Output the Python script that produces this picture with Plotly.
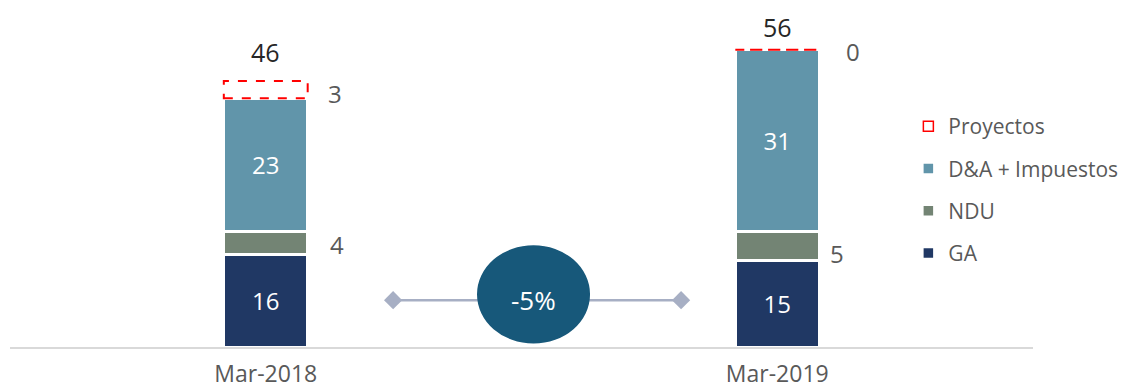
import plotly.graph_objects as go

categories = ["Mar-2018", "Mar-2019"]
ga = [16, 15]
ndu = [4, 5]
da_imp = [23, 31.4]
proyectos = [3, 0]
totals = [46, 56]
change_label = "-5%"

C_GA = "#203864"
C_NDU = "#738474"
C_DA = "#6195AA"
C_PROY = "#FF0000"
C_LABEL = "#595959"
FONT = "Open Sans"

xs = list(range(len(categories)))
BW = 0.164

fig = go.Figure()
common = dict(width=BW, hoverinfo="skip")
fig.add_bar(x=xs, y=ga, name="GA", legendgroup="ga", legendrank=4,
            marker=dict(color=C_GA, line=dict(color="white", width=2.5)),
            text=[f"{v:.0f}" for v in ga], textposition="inside",
            insidetextanchor="middle", textfont=dict(color="white", size=24, family=FONT),
            **common)
fig.add_bar(x=xs, y=ndu, name="NDU", legendgroup="ndu", legendrank=3,
            marker=dict(color=C_NDU, line=dict(color="white", width=2.5)), **common)
fig.add_bar(x=xs, y=da_imp, name="D&A + Impuestos", legendgroup="da", legendrank=2,
            marker=dict(color=C_DA, line=dict(color="white", width=2.5)),
            text=[f"{v:.0f}" for v in da_imp], textposition="inside",
            insidetextanchor="middle", textfont=dict(color="white", size=24, family=FONT),
            **common)
fig.add_bar(x=xs, y=proyectos, name="Proyectos", showlegend=False,
            marker=dict(color="rgba(0,0,0,0)", line=dict(width=0)), **common)
# legend entry for Proyectos
fig.add_scatter(x=[None], y=[None], mode="markers", name="Proyectos", legendgroup="proy",
                legendrank=1,
                marker=dict(symbol="square-open", color=C_PROY, size=10, line=dict(width=1.5)))

annotations = []
shapes = []
for i in xs:
    base = ga[i] + ndu[i] + da_imp[i]
    top = base + proyectos[i]
    shapes.append(dict(type="rect", xref="x", yref="y", x0=i - BW / 2, x1=i + BW / 2,
                       y0=base, y1=top, line=dict(color=C_PROY, width=2, dash="dash"),
                       fillcolor="rgba(0,0,0,0)", layer="above"))
    # outside labels
    annotations.append(dict(x=i + BW / 2, y=ga[i] + ndu[i] / 2, xref="x", yref="y",
                            text=f"{ndu[i]:.0f}", showarrow=False, xanchor="left",
                            xshift=[20, 9][i], yshift=[-2, -8][i],
                            font=dict(size=24, color=C_LABEL, family=FONT)))
    annotations.append(dict(x=i + BW / 2, y=base + proyectos[i] / 2, xref="x", yref="y",
                            text=f"{proyectos[i]:.0f}", showarrow=False, xanchor="left",
                            xshift=[18, 25][i], yshift=[-4, -2][i],
                            font=dict(size=24, color=C_LABEL, family=FONT)))
    annotations.append(dict(x=i, y=top, xref="x", yref="y", text=str(totals[i]),
                            showarrow=False, yshift=[29, 23][i],
                            font=dict(size=25, color="#262626", family=FONT)))

# change indicator
lx0, lx1, ly = 0.249, 0.812, 8.1
shapes.append(dict(type="line", xref="x", yref="y", x0=lx0, x1=lx1, y0=ly, y1=ly,
                   line=dict(color="#A7AFC4", width=2.5), layer="above"))
shapes.append(dict(type="circle", xref="x", yref="y", x0=0.413, x1=0.634, y0=0.6, y1=17.6,
                   fillcolor="#17587A", line=dict(width=0), layer="above"))
fig.add_scatter(x=[lx0, lx1], y=[ly, ly], mode="markers", showlegend=False, hoverinfo="skip",
                marker=dict(symbol="diamond", size=14, color="#A7AFC4"))
annotations.append(dict(x=0.5235, y=ly, xref="x", yref="y", text=change_label, showarrow=False,
                        font=dict(size=26, color="white", family=FONT)))

fig.update_layout(
    width=1127, height=390,
    margin=dict(l=10, r=94, t=0, b=43, autoexpand=False),
    barmode="stack",
    plot_bgcolor="white", paper_bgcolor="white",
    font=dict(family=FONT, color=C_LABEL),
    shapes=shapes, annotations=annotations,
    legend=dict(xref="container", yref="container", x=0.806, y=1 - 106 / 390,
                xanchor="left", yanchor="top", traceorder="grouped",
                font=dict(size=21, color=C_LABEL, family=FONT), tracegroupgap=12,
                bgcolor="rgba(0,0,0,0)", itemwidth=30),
    xaxis=dict(range=[-0.5, 1.5], tickvals=xs, ticktext=categories, showgrid=False,
               zeroline=False, showline=True, linecolor="#D9D9D9", linewidth=2,
               tickfont=dict(size=23, color=C_LABEL, family=FONT), ticks="",
               ticklabelstandoff=5),
    yaxis=dict(range=[0, 60.0], visible=False, showgrid=False, zeroline=False),
)

fig.write_html("out.html")
